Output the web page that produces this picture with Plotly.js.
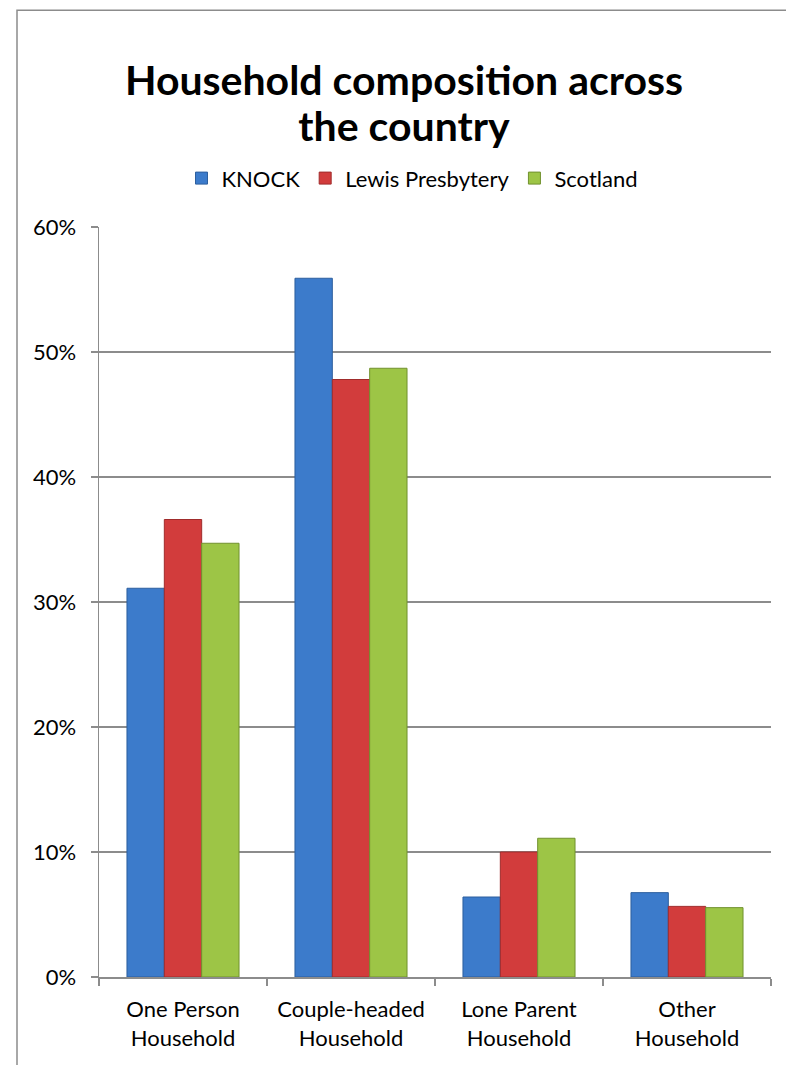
<!DOCTYPE html>
<html>
<head>
<meta charset="utf-8">
<script src="https://cdn.plot.ly/plotly-3.0.1.min.js"></script>
<style>
  html, body { margin: 0; padding: 0; background: #ffffff; }
  #chart { width: 786px; height: 1065px; }
</style>
</head>
<body>
<div id="chart"></div>
<script>
const categories = ["One Person<br>Household", "Couple-headed<br>Household", "Lone Parent<br>Household", "Other<br>Household"];
const knock = [0.311, 0.559, 0.064, 0.0675];
const lewis = [0.366, 0.478, 0.100, 0.0565];
const scotland = [0.347, 0.487, 0.111, 0.0555];
const seriesNames = ["KNOCK", "Lewis Presbytery", "Scotland"];
const yTicks = [0, 0.1, 0.2, 0.3, 0.4, 0.5, 0.6];
const yTickText = ["0%", "10%", "20%", "30%", "40%", "50%", "60%"];
const titleLines = ["Household composition across", "the country"];

const colors = ["#3c7bcb", "#d23c3c", "#9dc546"];
const lineColors = ["#2d5f9e", "#a02c2c", "#71912e"];

const FONT = "Lato, 'Open Sans', sans-serif";

const traces = [knock, lewis, scotland].map((vals, i) => ({
  type: "bar",
  name: seriesNames[i],
  x: categories,
  y: vals,
  marker: { color: colors[i], line: { color: lineColors[i], width: 1 } },
  hoverinfo: "x+y+name"
}));

const L = 99, R = 771, T = 226.7, B = 976.7;
const W = 786, H = 1065;
const pw = R - L, ph = B - T;
const px = v => (v - L) / pw;
const py = v => (B - v) / ph;

const titleText = "<b>" + titleLines.map(t => "<span style='font-size:41px'>" + t + "</span>").join("<br>") + "</b>";

const layout = {
  width: W,
  height: H,
  margin: { l: L, r: W - R, t: T, b: H - B, pad: 0 },
  paper_bgcolor: "#ffffff",
  plot_bgcolor: "#ffffff",
  font: { family: FONT, color: "#000000", size: 22 },
  title: {
    text: titleText,
    font: { family: FONT, size: 35, color: "#000000" },
    xref: "container", x: 404 / W, xanchor: "center",
    yref: "container", y: 1 - 95 / H, yanchor: "middle"
  },
  showlegend: true,
  legend: {
    orientation: "h",
    x: px(412), xanchor: "center",
    y: py(178), yanchor: "middle",
    font: { family: FONT, size: 22, color: "#000000" },
    traceorder: "normal",
    itemclick: false
  },
  barmode: "group",
  bargap: 0.333,
  bargroupgap: 0,
  xaxis: {
    type: "category",
    showgrid: false,
    showline: true,
    linecolor: "#8c8c8c",
    linewidth: 1.5,
    ticks: "outside",
    tickson: "boundaries",
    ticklen: 7,
    tickcolor: "#8c8c8c",
    tickwidth: 1.5,
    ticklabelstandoff: 12,
    tickfont: { family: FONT, size: 22, color: "#000000" },
    fixedrange: true
  },
  yaxis: {
    range: [0, 0.6],
    tickvals: yTicks,
    ticktext: yTickText,
    showgrid: true,
    gridcolor: "#8c8c8c",
    gridwidth: 1.3,
    showline: true,
    linecolor: "#8c8c8c",
    linewidth: 1.5,
    ticks: "outside",
    ticklen: 7,
    tickcolor: "#8c8c8c",
    tickwidth: 1.3,
    ticklabelstandoff: 10,
    zeroline: false,
    tickfont: { family: FONT, size: 22, color: "#000000" },
    fixedrange: true
  },
  shapes: [{
    type: "rect",
    xref: "paper", yref: "paper",
    x0: px(17), x1: px(820),
    y0: py(1100), y1: py(10),
    line: { color: "#8c8c8c", width: 1.5 },
    fillcolor: "rgba(0,0,0,0)",
    layer: "below"
  }]
};

Plotly.newPlot("chart", traces, layout, { displayModeBar: false, staticPlot: true });
</script>
</body>
</html>
